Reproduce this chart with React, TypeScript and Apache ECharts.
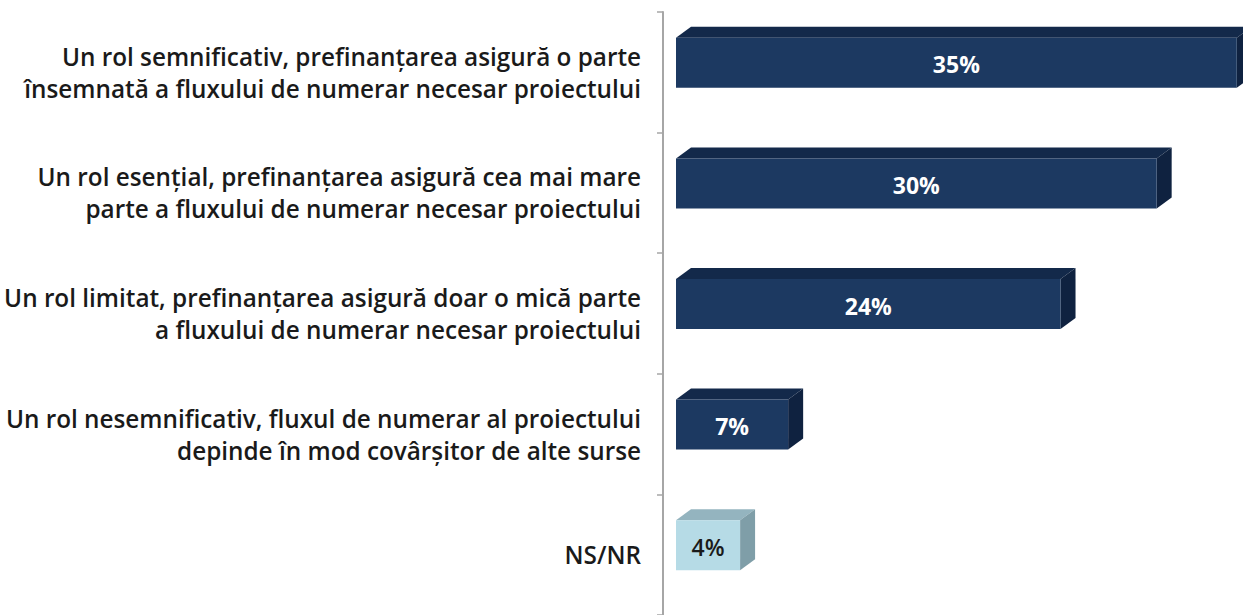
import React, { useEffect, useRef } from "react";
import * as echarts from "echarts";

const categories: string[] = [
  "Un rol semnificativ, prefinanțarea asigură o parte\nînsemnată a fluxului de numerar necesar proiectului",
  "Un rol esențial, prefinanțarea asigură cea mai mare\nparte a fluxului de numerar necesar proiectului",
  "Un rol limitat, prefinanțarea asigură doar o mică parte\na fluxului de numerar necesar proiectului",
  "Un rol nesemnificativ, fluxul de numerar al proiectului\ndepinde în mod covârșitor de alte surse",
  "NS/NR",
];
const values: number[] = [35, 30, 24, 7, 4];
const highlightIndex = 4; // NS/NR drawn in light colour

const DARK = { front: "#1c3961", top: "#13294a", side: "#0f2240", text: "#ffffff", weight: "bold" };
const LIGHT = { front: "#b6dbe6", top: "#94b4bf", side: "#7f9ea8", text: "#1a1a1a", weight: 600 };

export default function App() {
  const ref = useRef<HTMLDivElement>(null);
  useEffect(() => {
    if (!ref.current) return;
    const chart = echarts.init(ref.current, undefined, { renderer: "svg" });
    const gap = 13; // floor gap between axis line and bar front
    const dx = 15;
    const dy = 11;
    const frontH = 50;
    const shift = -9.5;
    chart.setOption({
      animation: false,
      backgroundColor: "#ffffff",
      grid: { left: 663, right: 0, top: 12, height: 606, containLabel: false },
      xAxis: {
        type: "value",
        min: 0,
        max: 36.2,
        show: false,
      },
      yAxis: {
        type: "category",
        data: categories,
        inverse: true,
        axisLine: { show: true, lineStyle: { color: "#a6a6a6", width: 2 } },
        axisTick: { show: true, length: 6, lineStyle: { color: "#a6a6a6", width: 1.5 } },
        axisLabel: {
          margin: 22,
          fontFamily: "'Open Sans', sans-serif",
          fontWeight: 600,
          fontSize: 24.3,
          lineHeight: 32,
          color: "#1a1a1a",
          align: "right",
        },
        splitLine: { show: false },
      },
      series: [
        {
          type: "custom",
          data: values.map((v, i) => [v, i]),
          encode: { x: 0, y: 1 },
          renderItem: (params: any, api: any) => {
            const val = api.value(0);
            const idx = api.value(1);
            const c = idx === highlightIndex ? LIGHT : DARK;
            const p0 = api.coord([0, idx]);
            const p1 = api.coord([val, idx]);
            const x0 = p0[0] + gap;
            const x1 = p1[0] + gap;
            const cy = p0[1] + shift;
            const yT = cy - frontH / 2;
            const yB = cy + frontH / 2;
            return {
              type: "group",
              children: [
                {
                  type: "polygon",
                  shape: { points: [[x0, yT], [x0 + dx, yT - dy], [x1 + dx, yT - dy], [x1, yT]] },
                  style: { fill: c.top },
                },
                {
                  type: "polygon",
                  shape: { points: [[x1, yT], [x1 + dx, yT - dy], [x1 + dx, yB - dy], [x1, yB]] },
                  style: { fill: c.side },
                },
                {
                  type: "rect",
                  shape: { x: x0, y: yT, width: x1 - x0, height: frontH },
                  style: { fill: c.front },
                },
                {
                  type: "text",
                  x: (x0 + x1) / 2,
                  y: cy + 1.5,
                  style: {
                    text: val + "%",
                    fill: c.text,
                    fontFamily: "'Open Sans', sans-serif",
                    fontWeight: c.weight,
                    fontSize: 23,
                    align: "center",
                    verticalAlign: "middle",
                  },
                },
              ],
            };
          },
        },
      ],
    });
    return () => chart.dispose();
  }, []);
  return (
    <div
      ref={ref}
      style={{ position: "fixed", left: 0, top: 0, width: 1243, height: 615, background: "#fff" }}
    />
  );
}
